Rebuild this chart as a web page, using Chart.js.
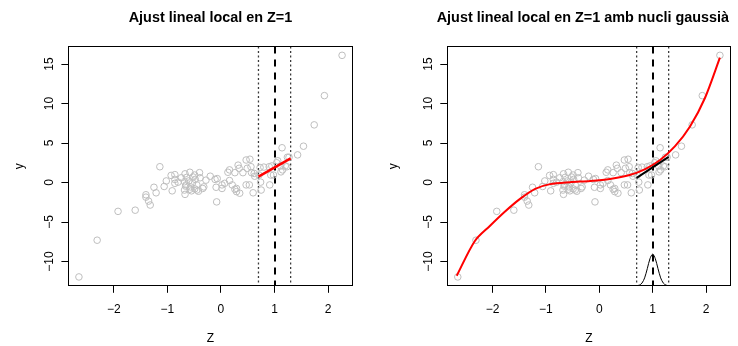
<!DOCTYPE html>
<html>
<head>
<meta charset="utf-8">
<script src="https://cdn.jsdelivr.net/npm/chart.js@4/dist/chart.umd.min.js"></script>
<style>
  html, body { margin: 0; padding: 0; background: #fff; }
  #wrap { position: relative; width: 738px; height: 346px; }
  canvas { position: absolute; top: 0; }
</style>
</head>
<body>
<div id="wrap">
  <canvas id="esquerra" width="369" height="346" style="left:0"></canvas>
  <canvas id="dreta" width="369" height="346" style="left:369px"></canvas>
</div>
<script>
// observed sample (Z, y)
const zObs = [
  -2.65, -2.31, -1.92, -1.60, -1.40, -1.40, -1.35, -1.32, -1.25, -1.21,
  -1.14, -1.06, -1.02, -0.93, -0.91, -0.86, -0.86, -0.86, -0.80, -0.67,
  -0.67, -0.66, -0.58, -0.60, -0.57, -0.55, -0.49, -0.48, -0.45, -0.45,
  -0.40, -0.39, -0.34, -0.42, -0.53, -0.64, -0.52, -0.68, -0.65, -0.68,
  -0.58, -0.49, -0.32, -0.20, -0.11, -0.07, -0.09, -0.08, 0.02, 0.02,
  0.07, 0.13, 0.16, 0.16, 0.21, 0.26, 0.26, 0.29, 0.29, 0.32,
  0.34, 0.35, 0.41, 0.47, 0.47, 0.49, 0.53, 0.54, 0.56, 0.57,
  0.60, 0.62, 0.63, 0.71, 0.74, 0.75, 0.90, 0.91, 0.93, 0.95,
  0.98, 1.04, 1.06, 1.11, 1.12, 1.14, 1.15, 1.20, 1.23, 1.24,
  1.27, 1.43, 1.54, 1.74, 1.93, 2.26, 0.73, 0.80, -0.74, -0.28
];
const yObs = [
  -11.95, -7.3, -3.65, -3.5, -1.55, -1.85, -2.35, -2.85, -0.6, -1.3,
  2.0, -0.5, 0.2, 0.9, -1.05, 1.0, 0.4, -0.1, 0.05, 1.1,
  -1.5, -0.45, 1.3, 0.2, -0.55, -1.05, 0.95, 0.4, -0.3, -0.95,
  1.25, 0.6, -0.75, -1.1, -0.03, 0.65, 0.7, 0.1, -0.3, -0.95,
  -0.85, -0.8, -0.55, 0.8, 0.4, 0.5, -0.6, -2.45, -0.75, -0.3,
  -0.1, 1.3, 1.6, 0.25, -0.3, 1.25, -0.85, -0.75, -1.15, 2.2,
  1.8, -1.35, 1.25, 2.85, -0.3, 1.8, -0.3, 2.95, 2.0, 1.25,
  -1.3, 1.15, 0.8, 0.95, 0.05, -0.95, 2.0, -0.3, 0.95, 2.1,
  0.95, 2.5, 2.75, 2.1, 1.35, 4.4, 1.6, 2.1, 2.0, 3.2,
  3.2, 3.5, 4.6, 7.3, 11.0, 16.1, 1.9, 1.95, 0.6, 0.3
];

const z0 = 1;                 // punt d'ajust
const finestra = [0.7, 1.3];  // límits de la finestra

// ajust lineal local (panell esquerre)
const ajustZ = [0.7, 1.3];
const ajustY = [0.75, 3.05];

// ajust amb nucli gaussià (panell dret)
const ajustNucliY = [0.6, 3.25];
const suauZ = [-2.67, -2.33, -2.05, -1.77, -1.49, -1.20, -0.92, -0.55, -0.17, 0.20, 0.57, 0.86, 1.14, 1.42, 1.70, 1.98, 2.26];
const suauY = [-11.8, -7.4, -5.5, -3.7, -2.1, -0.8, -0.2, 0.05, 0.2, 0.45, 0.95, 1.7, 2.85, 4.6, 7.1, 10.7, 15.8];
const nucliZ = [0.65, 0.70, 0.75, 0.80, 0.85, 0.90, 0.95, 1.00, 1.05, 1.10, 1.15, 1.20, 1.25, 1.30, 1.35];
const nucliY = [-13.07, -13.05, -12.99, -12.73, -12.07, -10.9, -9.64, -9.07, -9.64, -10.9, -12.07, -12.73, -12.99, -13.05, -13.07];

const FONT = "'Liberation Sans', Arial, Helvetica, sans-serif";

function pts(xs, ys) {
  return xs.map((x, i) => ({ x: x, y: ys[i] }));
}

function rang(v) {
  const lo = Math.min(...v), hi = Math.max(...v), d = (hi - lo) * 0.04;
  return [lo - d, hi + d];
}

function signe(v) {
  return v < 0 ? "\u2212" + Math.abs(v) : String(v);
}

// línies verticals i caixa a l'estil R
const marcsR = {
  id: "marcsR",
  beforeDatasetsDraw(chart) {
    const { ctx, chartArea: a, scales } = chart;
    ctx.save();
    ctx.beginPath();
    ctx.rect(a.left, a.top, a.right - a.left, a.bottom - a.top);
    ctx.clip();
    ctx.strokeStyle = "#3a3a3a";
    ctx.lineWidth = 1.3;
    ctx.setLineDash([2, 2.5]);
    finestra.forEach((z) => {
      const x = scales.x.getPixelForValue(z);
      ctx.beginPath();
      ctx.moveTo(x, a.top);
      ctx.lineTo(x, a.bottom);
      ctx.stroke();
    });
    ctx.strokeStyle = "#000";
    ctx.lineWidth = 2;
    ctx.setLineDash([7, 6]);
    const x0 = Math.round(scales.x.getPixelForValue(z0));
    ctx.beginPath();
    ctx.moveTo(x0, a.top);
    ctx.lineTo(x0, a.bottom);
    ctx.stroke();
    ctx.restore();
  },
  afterDraw(chart) {
    const { ctx, chartArea: a } = chart;
    ctx.save();
    ctx.strokeStyle = "#000";
    ctx.lineWidth = 1;
    ctx.strokeRect(Math.round(a.left) + 0.5, Math.round(a.top) + 0.5,
      Math.round(a.right - a.left), Math.round(a.bottom - a.top));
    ctx.restore();
  },
  afterLayout(chart, args, opts) {
    const t = chart.titleBlock;
    const shift = opts.titleShift || 0;
    if (t) { t.left += shift - 30; t.right += shift + 30; t.width = t.right - t.left; }
  }
};

function panell(id, titol, datasets, geo) {
  const xr = rang(zObs), yr = rang(yObs);
  const tickFont = { family: FONT, size: 12 };
  return new Chart(document.getElementById(id), {
    type: "scatter",
    data: { datasets: datasets },
    options: {
      responsive: false,
      animation: false,
      devicePixelRatio: 1,
      layout: { padding: { left: 0, right: geo.right, top: 0, bottom: 0 } },
      plugins: {
        legend: { display: false },
        tooltip: { enabled: false },
        marcsR: { titleShift: geo.titleShift },
        title: {
          display: true,
          text: titol,
          fullSize: false,
          color: "#000",
          font: { family: FONT, size: 14.4, weight: "bold" },
          padding: { top: 9.8, bottom: 19.4 }
        }
      },
      scales: {
        x: {
          type: "linear",
          min: xr[0],
          max: xr[1],
          afterFit: (s) => { s.height = 60.2; },
          border: { display: false },
          grid: { drawOnChartArea: false, tickLength: 7, color: "#000" },
          ticks: { stepSize: 1, includeBounds: false, maxRotation: 0, color: "#000", font: tickFont, padding: 10, callback: signe },
          title: { display: true, text: "Z", color: "#000", font: tickFont, padding: { top: 0, bottom: 0.5 } }
        },
        y: {
          type: "linear",
          min: yr[0],
          max: yr[1],
          afterFit: (s) => { s.width = geo.left; },
          border: { display: false },
          grid: { drawOnChartArea: false, tickLength: 7, color: "#000" },
          ticks: { stepSize: 5, includeBounds: false, minRotation: 90, maxRotation: 90, crossAlign: "center", color: "#000", font: tickFont, padding: 1.5, callback: signe },
          title: { display: true, text: "y", color: "#000", font: tickFont, padding: { top: geo.ytitle, bottom: 0 } }
        }
      }
    },
    plugins: [marcsR]
  });
}

const punts = {
  data: pts(zObs, yObs),
  showLine: false,
  pointStyle: "circle",
  pointRadius: 3.3,
  pointBorderWidth: 1,
  pointBorderColor: "#bebebe",
  pointBackgroundColor: "rgba(0,0,0,0)"
};

panell("esquerra", "Ajust lineal local en Z=1", [
  { data: pts(ajustZ, ajustY), showLine: true, pointRadius: 0, borderColor: "#ff0000", borderWidth: 2.5 },
  Object.assign({}, punts)
], { left: 68.4, right: 16.4, ytitle: 12, titleShift: 0 });

panell("dreta", "Ajust lineal local en Z=1 amb nucli gaussià", [
  { data: pts(ajustZ, ajustNucliY), showLine: true, pointRadius: 0, borderColor: "#000", borderWidth: 2 },
  { data: pts(nucliZ, nucliY), showLine: true, pointRadius: 0, borderColor: "#000", borderWidth: 1, tension: 0.3 },
  { data: pts(suauZ, suauY), showLine: true, pointRadius: 0, borderColor: "#ff0000", borderWidth: 2, tension: 0.3 },
  Object.assign({}, punts)
], { left: 78.3, right: 7.6, ytitle: 17, titleShift: -6 });
</script>
</body>
</html>
